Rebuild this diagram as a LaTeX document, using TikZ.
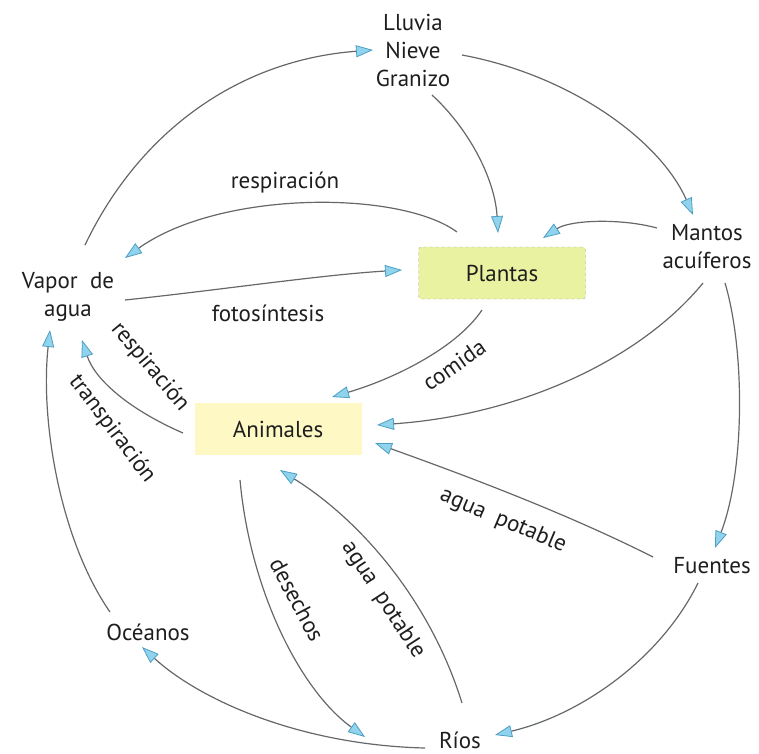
\documentclass[tikz,border=0pt]{standalone}
\usepackage{fontspec}
\setmainfont{PT Sans}
\usetikzlibrary{arrows.meta}
\definecolor{linegray}{HTML}{64686A}
\definecolor{tipfill}{HTML}{8FD3EC}
\definecolor{tipdraw}{HTML}{4E9EC4}
\definecolor{plantfill}{HTML}{E8F2A0}
\definecolor{animfill}{HTML}{FDF8C4}
\definecolor{txt}{HTML}{1E1E1E}
\tikzset{
  lbl/.style={font=\fontsize{23}{28}\selectfont, text=txt, inner sep=1pt, align=center},
  edgelbl/.style={font=\fontsize{23}{28}\selectfont, text=txt, inner sep=0pt},
  conn/.style={draw=linegray, line width=1.2pt,
    -{Triangle[length=17pt,width=12pt,fill=tipfill,color=tipdraw,line width=0.8pt]}},
  plantbox/.style={lbl, fill=plantfill, draw=black!35, dashed, rounded corners=3pt,
    minimum width=167pt, minimum height=52pt},
  animbox/.style={lbl, fill=animfill, minimum width=167pt, minimum height=52pt}
}
\begin{document}
\begin{tikzpicture}[x=1pt,y=-1pt]
\useasboundingbox (0,0) rectangle (759,753);
% nodes
\node[lbl] (lluvia) at (413,50) {Lluvia\\Nieve\\Granizo};
\node[lbl] (mantos) at (707,247) {Mantos\\acuíferos};
\node[lbl] (vapor) at (68,297) {Vapor~ de\\agua};
\node[plantbox] (plantas) at (502,273) {Plantas};
\node[animbox] (animales) at (278,429) {Animales};
\node[lbl] (fuentes) at (712,566) {Fuentes};
\node[lbl] (oceanos) at (148,632) {Océanos};
\node[lbl] (rios) at (460,740) {Ríos};
% connector endpoints
\coordinate (v1) at (85,245);   \coordinate (l1) at (373,50);
\coordinate (l2) at (462,55);   \coordinate (m1) at (693,215);
\coordinate (l3) at (432,95);   \coordinate (p1) at (498,233);
\coordinate (m2) at (657,228);  \coordinate (p2) at (543,238);
\coordinate (p3) at (457,232);  \coordinate (v2) at (125,258);
\coordinate (v3) at (125,300);  \coordinate (p4) at (402,270);
\coordinate (p5) at (482,310);  \coordinate (a1) at (332,397);
\coordinate (m3) at (703,283);  \coordinate (a2) at (377,425);
\coordinate (a3) at (183,433);  \coordinate (v4) at (82,340);
\coordinate (o1) at (110,612);  \coordinate (v5) at (50,330);
\coordinate (m4) at (725,283);  \coordinate (f1) at (715,548);
\coordinate (f2) at (653,557);  \coordinate (a4) at (375,443);
\coordinate (f3) at (698,583);  \coordinate (r1) at (495,735);
\coordinate (r2) at (425,748);  \coordinate (o2) at (142,647);
\coordinate (a5) at (240,480);  \coordinate (r3) at (365,737);
\coordinate (r4) at (462,703);  \coordinate (a6) at (280,470);
% connectors
\draw[conn] (v1) .. controls (140,130) and (240,60) .. (l1);
\draw[conn] (l2) .. controls (570,75) and (660,140) .. (m1);
\draw[conn] (l3) .. controls (470,130) and (495,180) .. (p1);
\draw[conn] (m2) .. controls (620,218) and (570,220) .. (p2);
\draw[conn] (p3) .. controls (400,190) and (220,190) .. (v2);
\draw[conn] (v3) .. controls (220,290) and (320,275) .. (p4);
\draw[conn] (p5) .. controls (455,350) and (390,380) .. (a1);
\draw[conn] (m3) .. controls (640,360) and (520,415) .. (a2);
\draw[conn] (a3) .. controls (130,410) and (95,380) .. (v4);
\draw[conn] (o1) .. controls (60,540) and (40,420) .. (v5);
\draw[conn] (m4) .. controls (745,350) and (745,470) .. (f1);
\draw[conn] (f2) .. controls (560,510) and (450,470) .. (a4);
\draw[conn] (f3) .. controls (660,660) and (580,715) .. (r1);
\draw[conn] (r2) .. controls (300,745) and (200,700) .. (o2);
\draw[conn] (a5) .. controls (250,590) and (300,690) .. (r3);
\draw[conn] (r4) .. controls (430,600) and (360,520) .. (a6);
% edge labels
\node[edgelbl] (lrespa) at (285,183) {respiración};
\node[edgelbl] (lfoto) at (268,313) {fotosíntesis};
\node[edgelbl, rotate=35] (lcomida) at (454,365) {comida};
\node[edgelbl, rotate=-50] (lrespb) at (150,367) {respiración};
\node[edgelbl, rotate=-53] (ltrans) at (112,429) {transpiración};
\node[edgelbl, rotate=-23] (lagua1) at (503,521) {agua~ potable};
\node[edgelbl, rotate=-57] (lagua2) at (383,600) {agua~ potable};
\node[edgelbl, rotate=-62] (ldes) at (297,600) {desechos};
\end{tikzpicture}
\end{document}
